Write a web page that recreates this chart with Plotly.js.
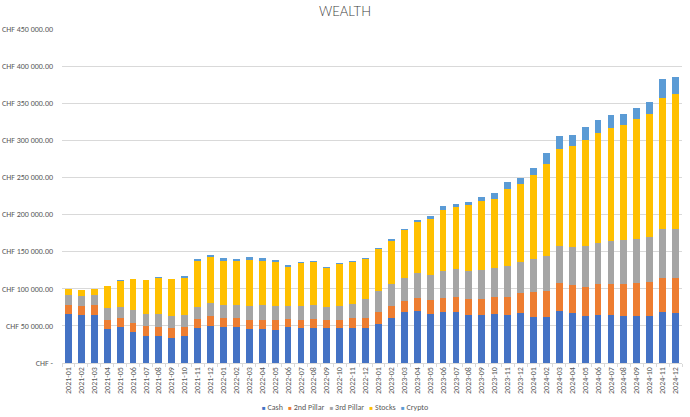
<!DOCTYPE html>
<html>
<head>
<meta charset="utf-8">
<script src="https://cdn.plot.ly/plotly-3.0.1.min.js"></script>
<style>html,body{margin:0;padding:0;background:#fff;}#chart{width:690px;height:417px;}</style>
</head>
<body>
<div id="chart"></div>
<script>
const months = ["2021-01","2021-02","2021-03","2021-04","2021-05","2021-06","2021-07","2021-08","2021-09","2021-10","2021-11","2021-12",
"2022-01","2022-02","2022-03","2022-04","2022-05","2022-06","2022-07","2022-08","2022-09","2022-10","2022-11","2022-12",
"2023-01","2023-02","2023-03","2023-04","2023-05","2023-06","2023-07","2023-08","2023-09","2023-10","2023-11","2023-12",
"2024-01","2024-02","2024-03","2024-04","2024-05","2024-06","2024-07","2024-08","2024-09","2024-10","2024-11","2024-12"];

const cash = [66200,64400,65300,45900,48200,41900,36500,36500,34200,36500,47300,50000,
48700,48700,45500,45500,45100,48200,46900,47800,46900,46900,47800,46900,
52200,61200,68300,70500,66500,69000,69000,64600,65100,65500,64600,67300,
62400,61500,69600,66900,63700,65100,64600,63300,62800,63700,69100,66900];

const pillar2 = [12200,12600,12200,12200,13100,12200,13000,11700,12600,11700,12200,13500,
12500,12300,12500,13000,12500,11200,10700,11600,11600,11600,12500,13400,
16100,15100,15200,17000,18800,18300,19600,21100,21500,22900,24300,26500,
32800,35000,37700,37700,38600,40800,41800,42600,44500,44900,45800,47100];

const pillar3 = [13500,13500,14400,15800,14800,17500,16700,18000,16200,16700,16600,17100,
17100,17300,19200,20100,19600,17800,18700,18700,16900,17800,19200,26300,
28100,30400,31700,33500,33000,36700,37600,38600,38600,39100,41700,42600,
44400,48000,50700,52000,54800,55200,57900,59300,59700,61500,65100,66000];

const stocks = [7600,7700,8100,29700,34700,41500,45500,48700,49600,49100,60900,62200,
59800,58700,61600,58900,59000,52700,58100,57600,53200,57200,56200,54000,
56700,58000,63400,69600,75900,82800,84200,88000,93400,93800,104100,104600,
113100,123500,130200,135100,143200,149000,151700,155300,161100,165200,177700,181800];

const crypto = [300,200,300,400,400,700,600,1300,900,3100,3100,3100,
3600,3600,4100,4000,2600,2200,1300,1300,1300,1300,1800,900,
1800,1800,1800,2700,3600,4500,4500,4900,5400,7200,9000,8600,
9400,15200,17500,15800,17900,17500,17500,15200,15300,16600,25600,23700];

const seriesNames = ["Cash","2nd Pillar","3rd Pillar","Stocks","Crypto"];
const seriesColors = ["#4472C4","#ED7D31","#A5A5A5","#FFC000","#5B9BD5"];
const yTickVals = [0,50000,100000,150000,200000,250000,300000,350000,400000,450000];
const yTickText = ["CHF -","CHF 50 000.00","CHF 100 000.00","CHF 150 000.00","CHF 200 000.00","CHF 250 000.00","CHF 300 000.00","CHF 350 000.00","CHF 400 000.00","CHF 450 000.00"];

const seriesData = [cash, pillar2, pillar3, stocks, crypto];
const traces = seriesData.map((vals, i) => ({
  type: "bar",
  name: seriesNames[i],
  x: months,
  y: vals,
  marker: {color: seriesColors[i], line: {width: 0}}
}));

// Compact Excel-style legend built from the series names and colours
const legendText = seriesNames.map((n, i) =>
  '<span style="color:' + seriesColors[i] + ';font-size:6px">■</span>&nbsp;' + n
).join('&nbsp;&nbsp;&nbsp;');

const fontFam = "Carlito, 'Liberation Sans Narrow', Roboto, 'Liberation Sans', sans-serif";
const layout = {
  width: 690, height: 417,
  barmode: "stack",
  bargap: 0.47,
  paper_bgcolor: "#ffffff",
  plot_bgcolor: "#ffffff",
  font: {family: fontFam, color: "#595959", size: 8},
  title: {text: "WEALTH", x: 0.5, xref: "container", y: 0.972, yref: "container", yanchor: "middle",
          font: {family: "Lato, 'Open Sans', sans-serif", size: 13, color: "#404040", weight: 300}},
  margin: {l: 62, r: 8, t: 29, b: 54},
  xaxis: {
    type: "category",
    tickangle: -90,
    tickfont: {size: 8, color: "#595959"},
    showgrid: false,
    showline: true, linecolor: "#d9d9d9", linewidth: 1,
    ticks: "outside", ticklen: 3, tickcolor: "#d9d9d9", tickson: "boundaries",
    automargin: false
  },
  yaxis: {
    range: [0, 450000],
    tickvals: yTickVals,
    ticktext: yTickText,
    tickfont: {size: 8, color: "#595959"},
    showgrid: true, gridcolor: "#d9d9d9", gridwidth: 1,
    zeroline: false,
    showline: false,
    ticks: "",
    ticklabelstandoff: 8,
    automargin: false
  },
  showlegend: false,
  annotations: [{
    text: legendText,
    xref: "paper", yref: "paper",
    x: 0.456, y: -0.132,
    xanchor: "center", yanchor: "middle",
    showarrow: false,
    font: {family: fontFam, size: 8, color: "#595959"}
  }]
};

Plotly.newPlot("chart", traces, layout, {displayModeBar: false, staticPlot: true});
</script>
</body>
</html>
